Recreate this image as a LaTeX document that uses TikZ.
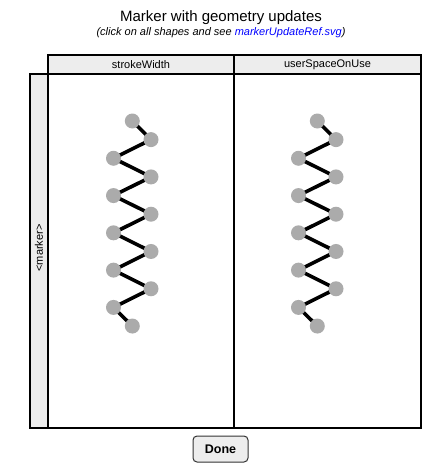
\documentclass[tikz,border=0pt]{standalone}
\usepackage{fontspec}
\setmainfont{Liberation Sans}
\begin{document}
\begin{tikzpicture}[x=1pt,y=-1pt,
  cellhead/.style={draw=black,line width=1.3pt,fill=black!7},
  cell/.style={draw=black,line width=1.3pt},
  mk/.style={circle,fill=black!33,draw=none,minimum size=15pt,inner sep=0pt},
  zig/.style={line width=3.6pt,black},
  lbl/.style={font=\fontsize{11}{13}\selectfont,inner sep=0pt}]
\useasboundingbox (0,0) rectangle (442,466);
\fill[white] (0,0) rectangle (442,466);
% title
\node[inner sep=0pt,font=\fontsize{15}{17}\selectfont] (title) at (221,18) {Marker with geometry updates};
\node[inner sep=0pt,font=\fontsize{11}{13}\selectfont\itshape] (sub) at (221,33) {(click on all shapes and see \textcolor{blue}{markerUpdateRef.svg})};
% table
\draw[cellhead] (48,55) rectangle (234,74);
\draw[cellhead] (234,55) rectangle (421,74);
\draw[cellhead] (30,74) rectangle (48,428);
\draw[cell] (48,74) rectangle (234,428);
\draw[cell] (234,74) rectangle (421,428);
\node[lbl] (h1) at (141,64.5) {strokeWidth};
\node[lbl] (h2) at (327.5,64.5) {userSpaceOnUse};
\node[lbl,rotate=90] (r1) at (39,248) {<marker>};
% markers
\foreach \dx/\c in {0/a,185/b}{
  \foreach \i/\xx in {0/132.3,1/151,2/113.5,3/151,4/113.5,5/151,6/113.5,7/151,8/113.5,9/151,10/113.5,11/132.3}{
    \coordinate (\c\i) at (\xx+\dx,121+18.64*\i);
  }
  \draw[zig] (\c0) \foreach \i in {1,...,11}{ -- (\c\i)};
  \foreach \i in {0,...,11}{ \node[mk] (m\c\i) at (\c\i) {}; }
}
% button
\node[draw=black!80,line width=1pt,fill=black!7,rounded corners=4pt,minimum width=55pt,minimum height=26pt,inner sep=0pt,font=\fontsize{12.5}{14}\selectfont\bfseries] (done) at (220.5,449) {Done};
\end{tikzpicture}
\end{document}
